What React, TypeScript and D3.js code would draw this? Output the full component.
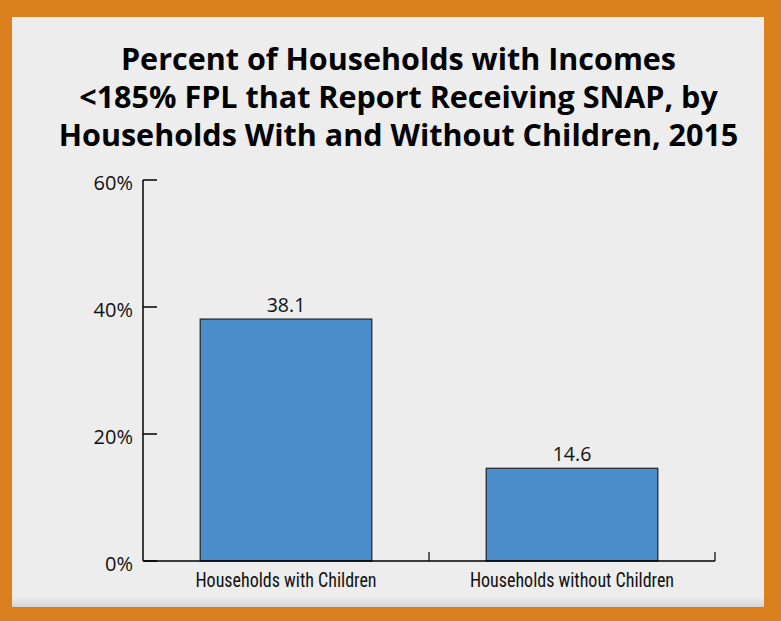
import React from "react";
import * as d3 from "d3";

const titleLines = [
  "Percent of Households with Incomes",
  "<185% FPL that Report Receiving SNAP, by",
  "Households With and Without Children, 2015",
];
const categories = ["Households with Children", "Households without Children"];
const values = [38.1, 14.6];
const yTicks = [0, 20, 40, 60];

const W = 781;
const H = 621;

export default function App() {
  const margin = { left: 143, right: 781 - 715, top: 180, bottom: 621 - 561 };
  const x = d3
    .scaleBand<string>()
    .domain(categories)
    .range([margin.left, W - margin.right])
    .paddingInner(0.4)
    .paddingOuter(0.2);
  const y = d3.scaleLinear().domain([0, 60]).range([H - margin.bottom, margin.top]);
  const x0 = margin.left;
  const x1 = W - margin.right;
  const y0 = y(0);
  const step = x.step();
  const catTicks = categories.map((_, i) => x0 + step * (i + 1));

  return (
    <div style={{ position: "absolute", left: 0, top: 0 }}>
      <svg width={W} height={H} style={{ display: "block" }}>
        <defs>
          <linearGradient id="shadowB" x1="0" y1="0" x2="0" y2="1">
            <stop offset="0" stopColor="#ededed" />
            <stop offset="1" stopColor="#d4d4d4" />
          </linearGradient>
        </defs>
        <rect x={0} y={0} width={W} height={H} fill="#db801f" />
        <rect x={12} y={17} width={752} height={590} fill="#ededed" />
        <rect x={12} y={597} width={752} height={10} fill="url(#shadowB)" />
        <g fontFamily="'Open Sans', 'DejaVu Sans', sans-serif" fontWeight="bold" fontSize={30.5} fill="#000" textAnchor="middle">
          {titleLines.map((t, i) => (
            <text key={i} x={398.5} y={70 + i * 38}>
              {t}
            </text>
          ))}
        </g>
        {/* y axis */}
        <line x1={x0} x2={x0} y1={y(60)} y2={y0} stroke="#000" strokeWidth={1.5} />
        {yTicks.map((t) => (
          <g key={t}>
            <line x1={x0} x2={x0 + 14} y1={y(t)} y2={y(t)} stroke="#000" strokeWidth={1.5} />
            <text x={133} y={y(t) + 9.5} textAnchor="end" fontFamily="'Open Sans', sans-serif" fontSize={20} fill="#111">
              {t}%
            </text>
          </g>
        ))}
        {values.map((v, i) => {
          const c = categories[i];
          const bx = x(c)!;
          const cx = bx + x.bandwidth() / 2;
          return (
            <g key={c}>
              <rect x={bx} y={y(v)} width={x.bandwidth()} height={y0 - y(v)} fill="#4b8dca" stroke="#222" strokeWidth={1.2} />
              <text x={cx} y={y(v) - 7} textAnchor="middle" fontFamily="'Open Sans', sans-serif" fontSize={19.5} fill="#111">
                {d3.format(".1f")(v)}
              </text>
              <text
                transform={`translate(${cx},587) scale(0.9,1)`}
                textAnchor="middle"
                fontFamily="'Liberation Sans Narrow', 'Roboto Condensed', sans-serif"
                fontSize={20}
                fill="#111"
              >
                {c}
              </text>
            </g>
          );
        })}
        {/* x axis */}
        <line x1={x0} x2={x1} y1={y0} y2={y0} stroke="#000" strokeWidth={1.5} />
        {catTicks.map((cx, i) => (
          <line key={i} x1={cx} x2={cx} y1={y0} y2={y0 - 9} stroke="#000" strokeWidth={1.2} />
        ))}
      </svg>
    </div>
  );
}
